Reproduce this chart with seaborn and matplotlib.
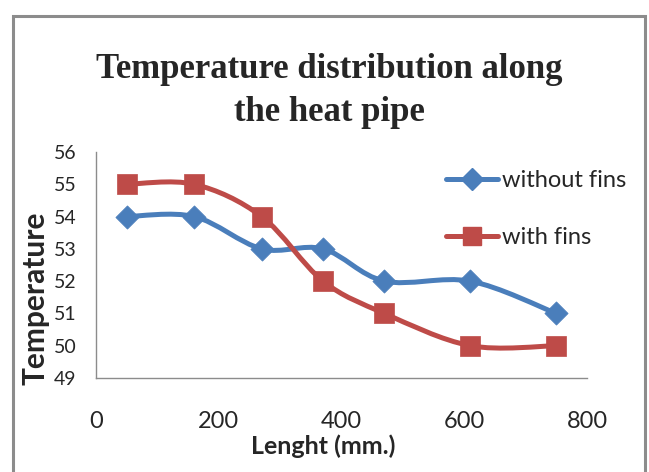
import numpy as np
import pandas as pd
import matplotlib
matplotlib.use("Agg")
import matplotlib.pyplot as plt
import seaborn as sns
from matplotlib.path import Path
from matplotlib.patches import PathPatch, Rectangle
from matplotlib.lines import Line2D

# Measured temperatures along the heat pipe
length_mm = [50, 160, 270, 370, 470, 610, 750]
temp_without_fins = [54, 54, 53, 53, 52, 52, 51]
temp_with_fins = [55, 55, 54, 52, 51, 50, 50]
series_names = ["without fins", "with fins"]
x_ticks = [0, 200, 400, 600, 800]
y_ticks = [49, 50, 51, 52, 53, 54, 55, 56]

title_text = "Temperature distribution along\nthe heat pipe"
x_label = "Lenght (mm.)"
y_label = "Temperature"

colors = {"without fins": "#4A7EBB", "with fins": "#BE4B48"}
markers = {"without fins": "D", "with fins": "s"}
marker_area = {"without fins": 140, "with fins": 215}

sns.set_style("white")
plt.rcParams["font.family"] = ["Lato", "DejaVu Sans"]

df = pd.DataFrame({
    "length": length_mm * 2,
    "temperature": temp_without_fins + temp_with_fins,
    "series": [series_names[0]] * len(length_mm) + [series_names[1]] * len(length_mm),
})


def smooth_path(xs, ys, k=1 / 6):
    """Bezier path through the points (Catmull-Rom style tangents)."""
    pts = np.column_stack([xs, ys]).astype(float)
    n = len(pts)
    verts = [pts[0]]
    codes = [Path.MOVETO]
    for i in range(n - 1):
        p0 = pts[max(i - 1, 0)]
        p1 = pts[i]
        p2 = pts[i + 1]
        p3 = pts[min(i + 2, n - 1)]
        verts += [p1 + (p2 - p0) * k, p2 - (p3 - p1) * k, p2]
        codes += [Path.CURVE4] * 3
    return Path(verts, codes)


W, H = 649, 472
fig = plt.figure(figsize=(W / 100, H / 100), dpi=100)
ax = fig.add_axes([96 / W, (H - 378) / H, (587 - 96) / W, (378 - 152) / H])

for name in series_names:
    sub = df[df["series"] == name]
    ax.add_patch(PathPatch(smooth_path(sub["length"], sub["temperature"]),
                           facecolor="none", edgecolor=colors[name], lw=3.6,
                           capstyle="round", joinstyle="round", zorder=2))
    sns.scatterplot(data=sub, x="length", y="temperature", ax=ax,
                    marker=markers[name], s=marker_area[name],
                    color=colors[name], edgecolor=colors[name], linewidth=0.5,
                    zorder=3, legend=False, clip_on=False)

ax.set_xlim(0, 800)
ax.set_ylim(49, 56)
ax.set_xticks(x_ticks)
ax.set_yticks(y_ticks)
ax.tick_params(axis="both", length=0)
ax.tick_params(axis="x", pad=24, labelsize=17)
ax.tick_params(axis="y", pad=14, labelsize=14)
for side in ["top", "right"]:
    ax.spines[side].set_visible(False)
for side in ["left", "bottom"]:
    ax.spines[side].set_color("#8c8c8c")
    ax.spines[side].set_linewidth(1.0)

ax.set_xlabel("")
ax.set_ylabel("")
fig.text(323 / W, 1 - 446 / H, x_label, ha="center", va="center",
         fontsize=18, fontweight="bold")
fig.text(36 / W, 1 - 298 / H, y_label, ha="center", va="center",
         rotation=90, fontsize=21.5, fontweight="bold")

fig.text(329 / W, 1 - 91 / H, title_text, ha="center", va="center",
         family=["Liberation Serif", "DejaVu Serif"], fontweight="bold",
         fontsize=25, linespacing=1.38)

handles = [Line2D([0], [0], color=colors[n], lw=3.6, marker=markers[n],
                  markersize=11 if n == "without fins" else 13,
                  markeredgecolor=colors[n]) for n in series_names]
fig.legend(handles, series_names, loc="upper left",
           bbox_to_anchor=(434 / W, 1 - 158 / H), frameon=False,
           fontsize=17, handlelength=2.2, handletextpad=0.2,
           labelspacing=1.55, borderpad=0)

fig.add_artist(Rectangle((13 / W, -0.05), (645 - 13) / W, 1 - 16 / H + 0.05,
                         transform=fig.transFigure, fill=False,
                         edgecolor="#8c8c8c", lw=2.2, clip_on=False))

fig.savefig("out.png", dpi=100)
